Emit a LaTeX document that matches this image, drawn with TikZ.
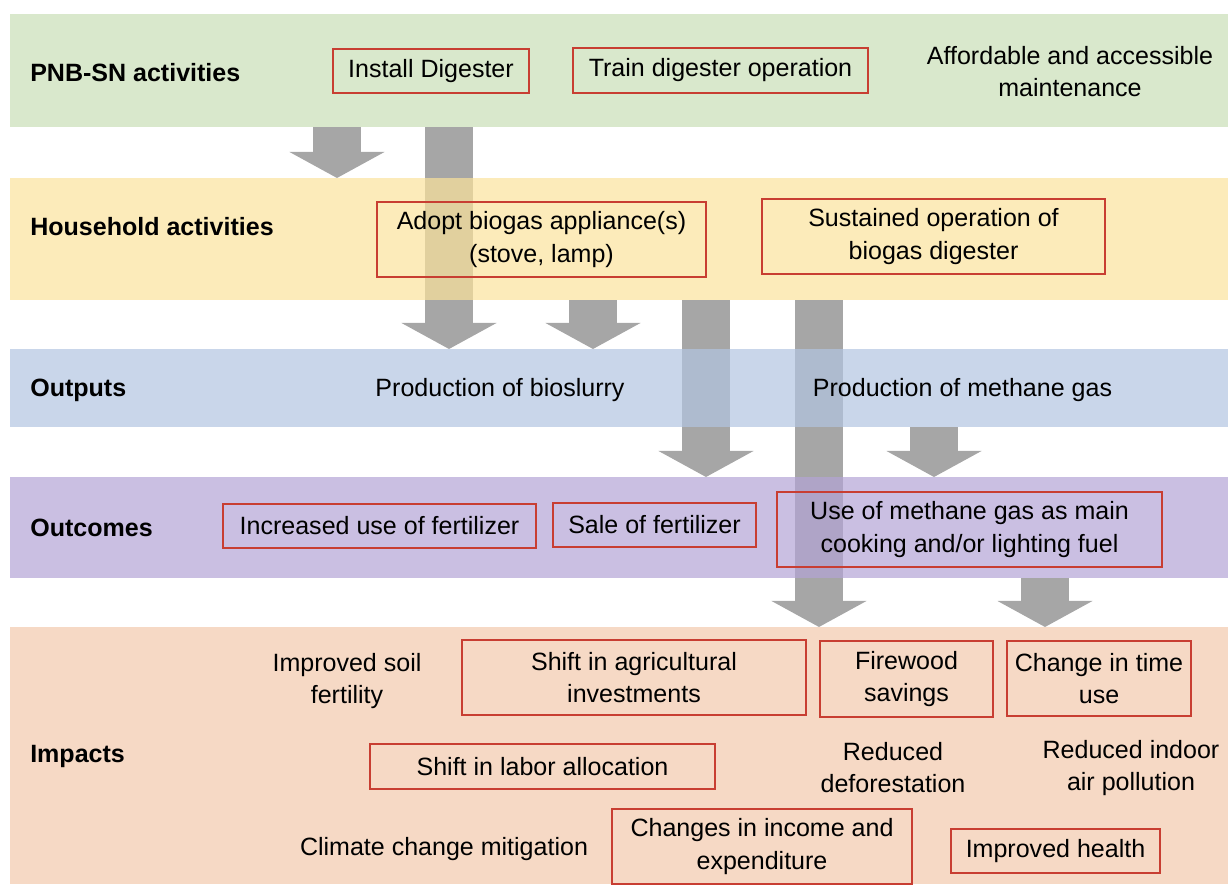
\documentclass[tikz,border=0pt]{standalone}
\usepackage{fontspec}
\setmainfont{Liberation Sans}
\usetikzlibrary{positioning, arrows.meta}

\definecolor{bandgreen}{RGB}{201,222,182}
\definecolor{bandyellow}{RGB}{251,227,156}
\definecolor{bandblue}{RGB}{178,196,225}
\definecolor{bandpurple}{RGB}{179,164,214}
\definecolor{bandpeach}{RGB}{242,201,172}
\definecolor{flowgray}{RGB}{166,166,166}
\definecolor{boxred}{RGB}{200,62,50}

\pgfdeclarelayer{background}
\pgfsetlayers{background,main}

\begin{document}
\begin{tikzpicture}[
                x=0.025cm, y=-0.025cm,
                font=\fontsize{17.8pt}{22.8pt}\selectfont,
                band/.style={rectangle, inner sep=0pt, outer sep=0pt, minimum width=30.45cm, fill opacity=0.7},
                level_label/.style={anchor=west, inner sep=0pt, font=\fontsize{17.8pt}{22.8pt}\selectfont\bfseries},
                flow/.style={line width=1.2cm, draw=flowgray, -{Triangle[width=2.375cm, length=0.65cm, line width=0pt]}},
                red_box/.style={rectangle, draw=boxred, line width=1pt, align=center, inner sep=0pt},
                plain_text/.style={align=center, inner sep=0pt}
            ]
                \useasboundingbox (0,0) rectangle (1228,884);

                % Bands, one per level
                \node[band, fill=bandgreen, minimum height=2.825cm] (pnb) at (619,70.5) {};
                \node[band, fill=bandyellow, minimum height=3.05cm] (household) at (619,239) {};
                \node[band, fill=bandblue, minimum height=1.95cm] (outputs) at (619,388) {};
                \node[band, fill=bandpurple, minimum height=2.525cm] (outcomes) at (619,527.5) {};
                \node[band, fill=bandpeach, minimum height=6.425cm] (impacts) at (619,755.5) {};

                % Level labels
                \node[level_label] (pnb_label) at (30,73) {PNB-SN activities};
                \node[level_label] (household_label) at (30,227) {Household activities};
                \node[level_label] (outputs_label) at (30,390) {Outputs};
                \node[level_label] (outcomes_label) at (30,528) {Outcomes};
                \node[level_label] (impacts_label) at (30,756) {Impacts};

                % PNB-SN activities
                \node[red_box, minimum width=4.9cm, minimum height=1.1cm] (install) at (431,71) {Install Digester};
                \node[red_box, minimum width=7.375cm, minimum height=1.125cm] (train) at (720.5,70.5) {Train digester operation};
                \node[plain_text] (maintenance) at (1070,71.5) {Affordable and accessible\\maintenance};

                % Household activities
                \node[red_box, minimum width=8.225cm, minimum height=1.875cm] (adopt) at (541.5,239.5) {Adopt biogas appliance(s)\\(stove, lamp)};
                \node[red_box, minimum width=8.575cm, minimum height=1.875cm] (sustained) at (933.5,236.5) {Sustained operation of\\biogas digester};

                % Outputs
                \node[plain_text] (bioslurry) at (500,390) {Production of bioslurry};
                \node[plain_text] (methane) at (962.5,390) {Production of methane gas};

                % Outcomes
                \node[red_box, minimum width=7.825cm, minimum height=1.1cm] (fert_use) at (379.5,526) {Increased use of fertilizer};
                \node[red_box, minimum width=5.075cm, minimum height=1.1cm] (fert_sale) at (654.5,525) {Sale of fertilizer};
                \node[red_box, minimum width=9.625cm, minimum height=1.875cm] (gas_use) at (969.5,529.5) {Use of methane gas as main\\cooking and/or lighting fuel};

                % Impacts
                \node[plain_text] (soil) at (347,681) {Improved soil\\fertility};
                \node[red_box, minimum width=8.6cm, minimum height=1.875cm] (agri) at (634,677.5) {Shift in agricultural\\investments};
                \node[red_box, minimum width=4.325cm, minimum height=1.9cm] (firewood) at (906.5,679) {Firewood\\savings};
                \node[red_box, minimum width=4.6cm, minimum height=1.875cm] (time_use) at (1099,678.5) {Change in time\\use};
                \node[red_box, minimum width=8.625cm, minimum height=1.125cm] (labor) at (542.5,766.5) {Shift in labor allocation};
                \node[plain_text] (deforest) at (893,768) {Reduced\\deforestation};
                \node[plain_text] (indoor) at (1131,768) {Reduced indoor\\air pollution};
                \node[plain_text] (climate) at (444,849) {Climate change mitigation};
                \node[red_box, minimum width=7.5cm, minimum height=1.875cm] (income) at (762,846.5) {Changes in income and\\expenditure};
                \node[red_box, minimum width=5.225cm, minimum height=1.1cm] (health) at (1055.5,851) {Improved health};

                % Flow arrows sit under the bands
                \begin{pgfonlayer}{background}
                \draw[flow] (337,0 |- pnb.south) -- (337,0 |- household.north);
                \draw[flow] (449,0 |- pnb.south) -- (449,0 |- outputs.north);
                \draw[flow] (593,0 |- household.south) -- (593,0 |- outputs.north);
                \draw[flow] (706,0 |- household.south) -- (706,0 |- outcomes.north);
                \draw[flow] (819,0 |- household.south) -- (819,0 |- impacts.north);
                \draw[flow] (934,0 |- outputs.south) -- (934,0 |- outcomes.north);
                \draw[flow] (1045,0 |- outcomes.south) -- (1045,0 |- impacts.north);
                \end{pgfonlayer}

            \end{tikzpicture}
\end{document}
